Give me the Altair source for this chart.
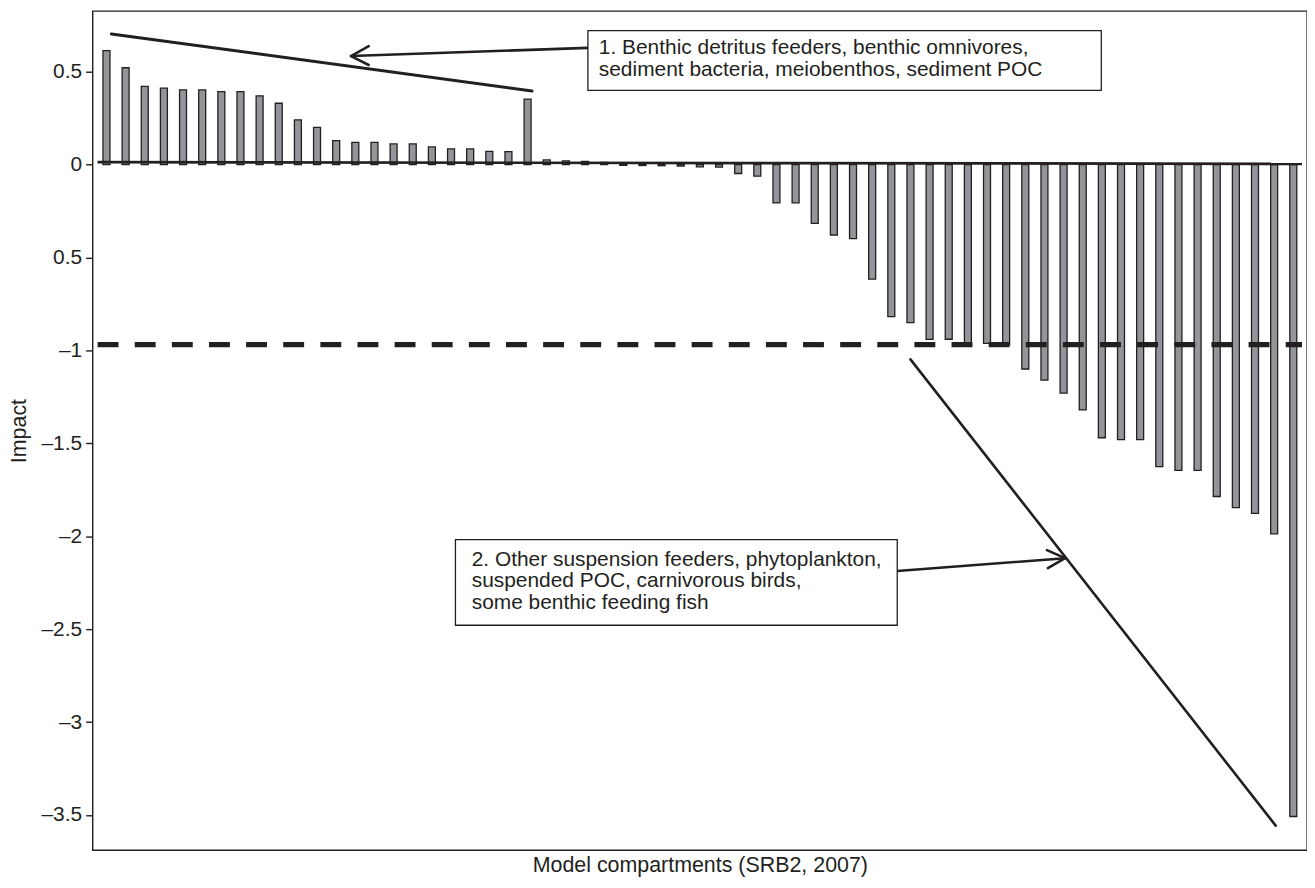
import altair as alt
import pandas as pd

# ---- data ----
impact = [0.613, 0.521, 0.421, 0.411, 0.402, 0.402, 0.393, 0.393, 0.370, 0.330,
          0.241, 0.200, 0.129, 0.120, 0.120, 0.111, 0.111, 0.095, 0.084, 0.084,
          0.071, 0.070, 0.352, 0.025, 0.020, 0.017, 0.012, -0.004, -0.005, -0.006,
          -0.008, -0.012, -0.014, -0.048, -0.062, -0.206, -0.206, -0.316, -0.379, -0.398,
          -0.616, -0.818, -0.850, -0.941, -0.940, -0.959, -0.962, -0.970, -1.100, -1.160,
          -1.230, -1.320, -1.470, -1.480, -1.480, -1.625, -1.645, -1.645, -1.786, -1.846,
          -1.877, -1.987, -3.508]
compartment = list(range(1, len(impact) + 1))

y_ticks = [0.5, 0, -0.5, -1, -1.5, -2, -2.5, -3, -3.5]
x_domain = [0.536, 63.456]
y_domain = [-3.689, 0.8265]

# annotation geometry in data units (compartment index, impact)
zero_line_x = [0.536, 63.456]
zero_line_y = [0.013, 0.004]
threshold = -0.969

seg_names = ["line1", "line1", "arrow1", "arrow1", "head1", "head1", "head1",
             "line2", "line2", "arrow2", "arrow2", "head2", "head2", "head2"]
seg_x = [1.258, 23.23, 26.15, 13.775, 14.70, 13.775, 14.70,
         43.0, 62.08, 42.31, 51.08, 50.13, 51.08, 50.18]
seg_y = [0.703, 0.396, 0.628, 0.584, 0.637, 0.584, 0.536,
         -1.048, -3.557, -2.187, -2.118, -2.075, -2.118, -2.171]
seg_w = [3.0, 3.0, 2.6, 2.6, 2.6, 2.6, 2.6,
         2.6, 2.6, 2.6, 2.6, 2.6, 2.6, 2.6]

box_x = [26.15, 19.23]
box_x2 = [52.97, 42.31]
box_y = [0.721, -2.018]
box_y2 = [0.3996, -2.479]

note_lines = ["1. Benthic detritus feeders, benthic omnivores,",
              "sediment bacteria, meiobenthos, sediment POC",
              "2. Other suspension feeders, phytoplankton,",
              "suspended POC, carnivorous birds,",
              "some benthic feeding fish"]
note_x = [26.72, 26.72, 20.08, 20.08, 20.08]
note_y = [0.6283, 0.5078, -2.1275, -2.2426, -2.3578]

# ---- build tables ----
bars = pd.DataFrame({"x": compartment, "y": impact})
zero_df = pd.DataFrame({"x": zero_line_x, "y": zero_line_y})
dash_df = pd.DataFrame({"x": x_domain, "y": [threshold, threshold]})
seg_df = pd.DataFrame({"seg": seg_names, "x": seg_x, "y": seg_y, "w": seg_w,
                       "ord": list(range(len(seg_x)))})
box_df = pd.DataFrame({"x": box_x, "x2": box_x2, "y": box_y, "y2": box_y2})
note_df = pd.DataFrame({"t": note_lines, "x": note_x, "y": note_y})

INK = "#231f20"
FONT = "Liberation Sans"

xs = alt.Scale(domain=x_domain, nice=False, zero=False)
ys = alt.Scale(domain=y_domain, nice=False, zero=False)
x_axis = alt.Axis(title="Model compartments (SRB2, 2007)", labels=False, ticks=False,
                  domain=False, grid=False, titleFontSize=21.5, titleFont=FONT,
                  titleFontWeight="normal", titleColor=INK, titlePadding=4)
y_axis = alt.Axis(title="Impact", values=y_ticks, grid=False, domain=False,
                  tickSize=7, tickColor=INK, tickWidth=1.4, labelPadding=4,
                  labelFontSize=21, labelFont=FONT, labelColor=INK,
                  labelExpr="datum.value == -0.5 ? '0.5' : (datum.value < 0 ? '\u2013' + toString(-datum.value) : toString(datum.value))",
                  titleFontSize=21.5, titleFont=FONT, titleFontWeight="normal",
                  titleColor=INK, titlePadding=11)

X = alt.X("x:Q", scale=xs, axis=x_axis)
Y = alt.Y("y:Q", scale=ys, axis=y_axis)

bar_layer = alt.Chart(bars).mark_bar(size=7, fill="#939598", stroke=INK,
                                     strokeWidth=1.3).encode(x=X, y=Y, y2=alt.datum(0))
zero_layer = alt.Chart(zero_df).mark_line(color=INK, strokeWidth=2.7).encode(x=X, y=Y)
dash_layer = alt.Chart(dash_df).mark_line(color=INK, strokeWidth=5.3,
                                          strokeDash=[21, 16.3]).encode(x=X, y=Y)
seg_layer = alt.Chart(seg_df).mark_line(color=INK, strokeCap="round",
                                        strokeJoin="round").encode(
    x=X, y=Y, detail="seg:N", order="ord:Q",
    strokeWidth=alt.StrokeWidth("w:Q", scale=None))
box_layer = alt.Chart(box_df).mark_rect(fill="white", stroke=INK,
                                        strokeWidth=1.3).encode(
    x=X, x2="x2:Q", y=Y, y2="y2:Q")
note_layer = alt.Chart(note_df).mark_text(align="left", baseline="middle",
                                          font=FONT, fontSize=21, color=INK).encode(
    x=X, y=Y, text="t:N")

chart = alt.layer(bar_layer, zero_layer, dash_layer, seg_layer, box_layer,
                  note_layer).properties(
    width=1220, height=843,
    background="white",
    autosize=alt.AutoSizeParams(type="none"),
    padding={"left": 85, "top": 1, "right": 0, "bottom": 27},
).configure_view(stroke=INK, strokeWidth=1.4)

chart.save("out.html", embed_options={"renderer": "svg", "actions": False})
